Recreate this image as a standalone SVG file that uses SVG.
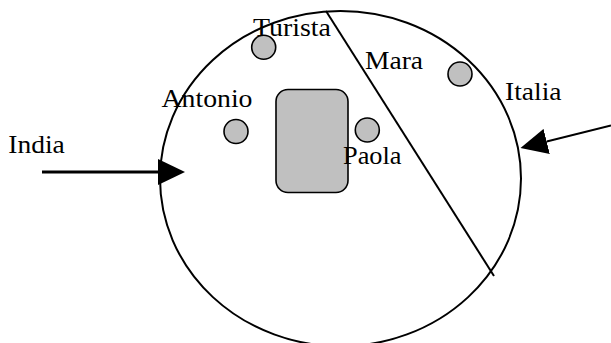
<svg xmlns="http://www.w3.org/2000/svg" width="611" height="343" viewBox="0 0 611 343">
<style>
  .lbl { font-family: "Liberation Serif", "DejaVu Serif", serif; font-size: 25px; fill: #000; }
  .person { fill: #c0c0c0; stroke: #000; stroke-width: 1.6; }
  .edge { fill: none; stroke: #000; }
</style>
<defs>
  <marker id="head" viewBox="0 0 27 26" refX="0" refY="13" markerWidth="27" markerHeight="26" markerUnits="userSpaceOnUse" orient="auto">
    <path d="M0,0 L27,13 L0,26 Z" fill="#000"/>
  </marker>
</defs>
<rect width="611" height="343" fill="#fff"/>
<g id="world">
  <ellipse cx="340.5" cy="178.6" rx="180.5" ry="167.6" fill="none" stroke="#000" stroke-width="2"/>
  <line x1="326" y1="11" x2="494" y2="276" stroke="#000" stroke-width="2"/>
</g>
<g id="table">
  <rect x="276" y="89.5" width="72" height="103" rx="12" ry="12" fill="#c0c0c0" stroke="#000" stroke-width="1.6"/>
</g>
<g id="turista">
  <circle class="person" cx="263.7" cy="47.3" r="12"/>
  <text class="lbl" x="253" y="36" textLength="78" lengthAdjust="spacingAndGlyphs">Turista</text>
</g>
<g id="antonio">
  <circle class="person" cx="236" cy="131.5" r="12"/>
  <text class="lbl" x="161.5" y="107" textLength="91" lengthAdjust="spacingAndGlyphs">Antonio</text>
</g>
<g id="paola">
  <circle class="person" cx="367.3" cy="130" r="12"/>
  <text class="lbl" x="343" y="163.5" textLength="58.5" lengthAdjust="spacingAndGlyphs">Paola</text>
</g>
<g id="mara">
  <circle class="person" cx="460" cy="74" r="12"/>
  <text class="lbl" x="365" y="68.5" textLength="58" lengthAdjust="spacingAndGlyphs">Mara</text>
</g>
<g id="italia">
  <text class="lbl" x="505" y="100" textLength="56.5" lengthAdjust="spacingAndGlyphs">Italia</text>
</g>
<g id="india">
  <text class="lbl" x="8.3" y="153.3" textLength="56.5" lengthAdjust="spacingAndGlyphs">India</text>
</g>
<g id="connectors">
  <line class="edge" x1="42" y1="172" x2="158" y2="172" stroke-width="3" marker-end="url(#head)"/>
  <line class="edge" x1="611" y1="125.5" x2="546.7" y2="141.5" stroke-width="2" marker-end="url(#head)"/>
</g>
</svg>
